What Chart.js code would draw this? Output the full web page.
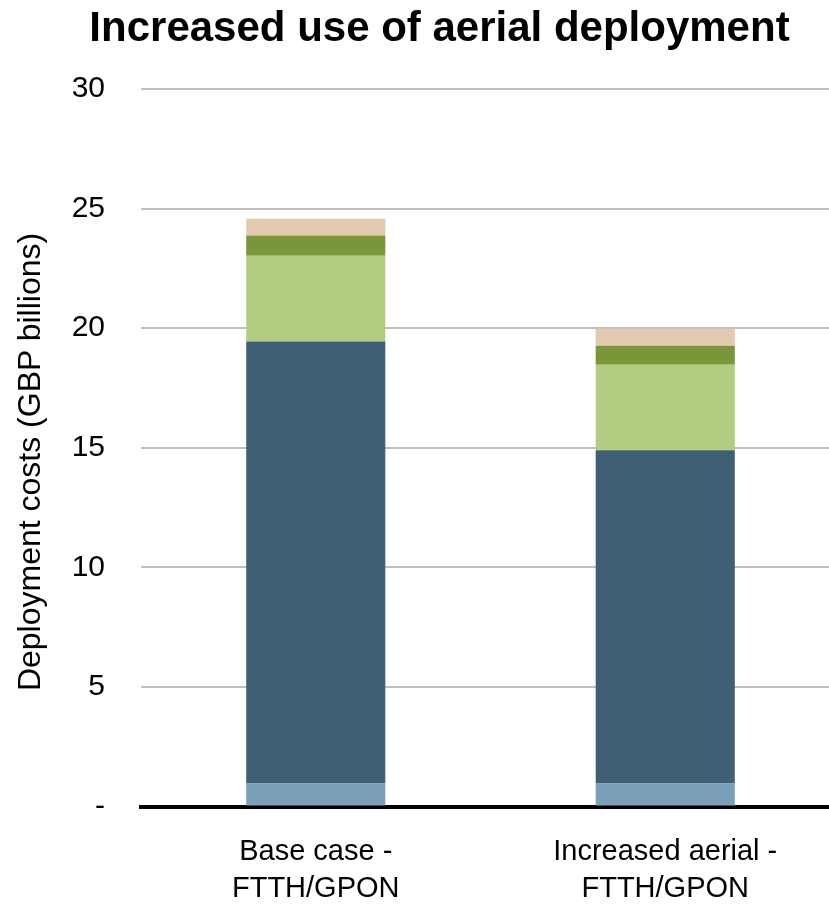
<!DOCTYPE html>
<html>
<head>
<meta charset="utf-8">
<script src="https://cdn.jsdelivr.net/npm/chart.js@4.4.1/dist/chart.umd.min.js"></script>
<style>
  html, body { margin: 0; padding: 0; background: #fff; overflow: hidden; }
  #wrap { position: relative; width: 829px; height: 906px; overflow: hidden; }
  #title {
    position: absolute; left: 25px; top: 3px; width: 829px; margin: 0;
    text-align: center; font: bold 42px "Liberation Sans", Arial, sans-serif; color: #000;
  }
  #ytitle {
    position: absolute; left: 30px; top: 462px; width: 600px; height: 38px; line-height: 38px;
    margin-left: -300px; margin-top: -19px; transform: rotate(-90deg);
    text-align: center; font: 32px "Liberation Sans", Arial, sans-serif; color: #000; white-space: nowrap;
  }
  canvas { position: absolute; left: 0; top: 0; }
</style>
</head>
<body>
<div id="wrap">
  <canvas id="chart" width="840" height="906"></canvas>
  <h1 id="title">Increased use of aerial deployment</h1>
  <div id="ytitle">Deployment costs (GBP billions)</div>
</div>
<script>
// Scenarios (two lines per axis label)
const scenarios = [["Base case -", "FTTH/GPON"], ["Increased aerial -", "FTTH/GPON"]];

// Cost components, GBP billions, stacked bottom to top
const activeEquipment = [0.96, 0.96];
const civilWorks      = [18.48, 13.94];
const dropCabling     = [3.59, 3.57];
const fibreCabling    = [0.84, 0.80];
const otherCosts      = [0.71, 0.71];

const yTicks = [0, 5, 10, 15, 20, 25, 30];

const FONT = '"Liberation Sans", Arial, sans-serif';

new Chart(document.getElementById('chart'), {
  type: 'bar',
  data: {
    labels: scenarios,
    datasets: [
      { label: 'Active equipment', data: activeEquipment, backgroundColor: '#7A9FB8' },
      { label: 'Civil works',      data: civilWorks,      backgroundColor: '#3F5F75' },
      { label: 'Drop cabling',     data: dropCabling,     backgroundColor: '#B2CD82' },
      { label: 'Fibre cabling',    data: fibreCabling,    backgroundColor: '#7A9638' },
      { label: 'Other costs',      data: otherCosts,      backgroundColor: '#E2C9B0' }
    ]
  },
  options: {
    responsive: false,
    animation: false,
    layout: { padding: { top: 89, right: 0, left: 0, bottom: 0 } },
    datasets: { bar: { barPercentage: 0.398, categoryPercentage: 1, borderWidth: 0 } },
    plugins: { legend: { display: false }, tooltip: { enabled: false }, title: { display: false } },
    scales: {
      x: {
        stacked: true,
        afterFit: (s) => { s.height = 99.5; },
        grid: { display: false, drawTicks: false },
        border: { display: true, color: '#000', width: 4 },
        ticks: { color: '#000', font: { family: FONT, size: 29, lineHeight: 1.27 }, padding: 27, maxRotation: 0 }
      },
      y: {
        stacked: true,
        min: 0, max: 30,
        afterBuildTicks: (s) => { s.ticks = yTicks.map(v => ({ value: v })); },
        afterFit: (s) => { s.width = 141; },
        grid: { color: '#C0C0C0', lineWidth: 2, drawTicks: false },
        border: { display: false },
        ticks: {
          color: '#000', padding: 36,
          font: { family: FONT, size: 30 },
          callback: (v) => v === 0 ? '-' : String(v)
        },
        title: { display: false }
      }
    }
  }
});
</script>
</body>
</html>
